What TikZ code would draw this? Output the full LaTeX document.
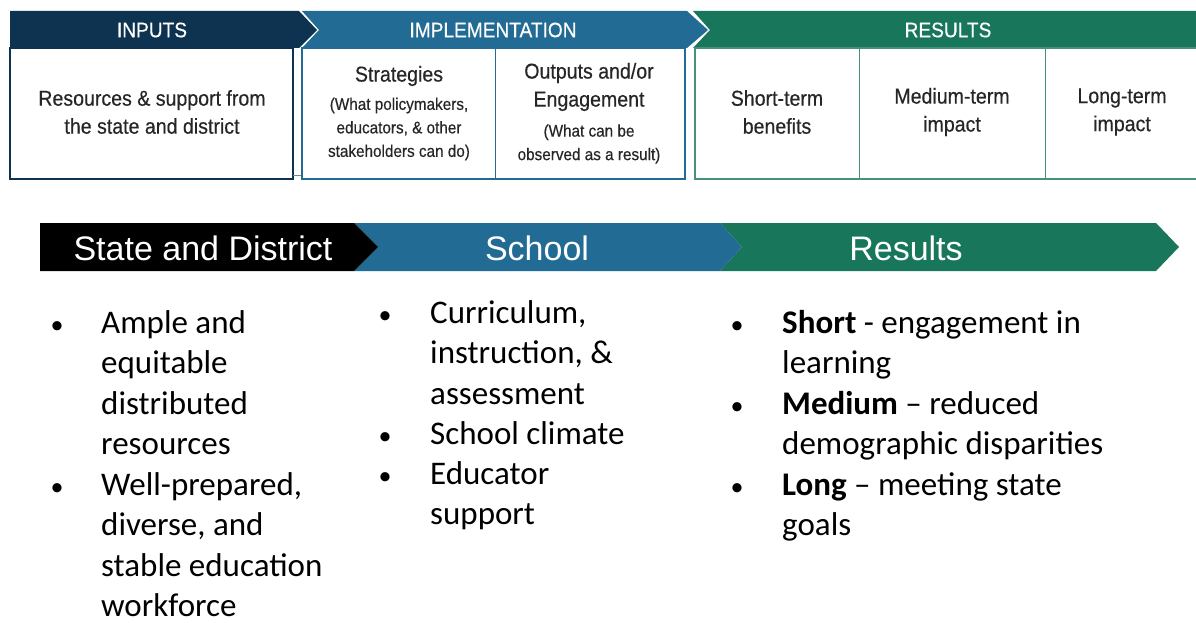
\documentclass[tikz,border=0pt]{standalone}
\usepackage{fontspec}
\setmainfont{Carlito}
\newfontfamily\condfont[FakeStretch=0.91,FakeBold=0.4]{Liberation Sans}
\newfontfamily\bannerfont{Liberation Sans}
\definecolor{navyhead}{HTML}{0D3350}
\definecolor{bluehead}{HTML}{226B94}
\definecolor{greenhead}{HTML}{18765A}
\definecolor{darktext}{HTML}{262626}
\tikzset{
  headtext/.style={text=white, font=\condfont\fontsize{21}{24}\selectfont},
  boxtext/.style={text=darktext, align=center, font=\condfont\fontsize{21.5}{28}\selectfont},
  subtext/.style={text=darktext, align=center, font=\condfont\fontsize{16.8}{23.5}\selectfont},
  bannertext/.style={text=white, font=\bannerfont\fontsize{34}{38}\selectfont},
  bulletdot/.style={anchor=base, inner sep=0, font=\fontsize{26}{40.5}\selectfont},
  itemtext/.style={anchor=base west, inner sep=0, align=left, font=\fontsize{33}{40.5}\selectfont},
}

\begin{document}
\begin{tikzpicture}[x=1pt,y=-1pt]
\useasboundingbox (0,0) rectangle (1196,623);
\fill[white] (0,0) rectangle (1196,623);

\fill[greenhead] (693,11) -- (1200,11) -- (1200,48) -- (693,48) -- (710,30) -- cycle;
\fill[bluehead] (302,11) -- (687,11) -- (708,30) -- (687,48) -- (302,48) -- (319,30) -- cycle;
\fill[navyhead] (10,11) -- (299,11) -- (317,30) -- (299,48) -- (10,48) -- cycle;
\node[headtext] (inputshead) at (152,30) {INPUTS};
\node[headtext] (implhead) at (493,30) {IMPLEMENTATION};
\node[headtext] (resultshead) at (948,30) {RESULTS};

\draw[navyhead, line width=1.5] (10,48) rectangle (293,179);
\draw[gray, line width=0.8] (293,175) -- (302,175);
\draw[bluehead, line width=1.5] (302,48) rectangle (685,179);
\draw[bluehead, line width=1] (495,48) -- (495,179);
\draw[greenhead!80, line width=1.5] (695,48) rectangle (1205,179);
\draw[greenhead!80, line width=1] (859,48) -- (859,179);
\draw[greenhead!80, line width=1] (1045,48) -- (1045,179);

\node[boxtext] (inputs) at (152,112) {Resources \& support from\\the state and district};
\node[boxtext] (strat) at (399,76) {Strategies};
\node[subtext] (stratsub) at (399,129) {(What policymakers,\\educators, \& other\\stakeholders can do)};
\node[boxtext] (outputs) at (589,87) {Outputs and/or\\Engagement};
\node[subtext] (outputssub) at (589,144) {(What can be\\observed as a result)};
\node[boxtext] (short) at (777,112) {Short-term\\benefits};
\node[boxtext] (medium) at (952,112) {Medium-term\\impact};
\node[boxtext] (long) at (1122,112) {Long-term\\impact};

\fill[greenhead] (720,223) -- (1156,223) -- (1179,247) -- (1156,271) -- (720,271) -- (742,247) -- cycle;
\fill[bluehead] (354,223) -- (720,223) -- (742,247) -- (720,271) -- (354,271) -- (378,247) -- cycle;
\fill[black] (40,223) -- (354,223) -- (378,247) -- (354,271) -- (40,271) -- cycle;
\node[bannertext] (statehead) at (203,248) {State and District};
\node[bannertext] (schoolhead) at (537,248) {School};
\node[bannertext] (resultsband) at (906,248) {Results};

\node[bulletdot] (b1) at (57,333) {•};
\node[itemtext] (ample) at (101,454.5) {Ample and\\equitable\\distributed\\resources};
\node[bulletdot] (b2) at (57,495) {•};
\node[itemtext] (well) at (101,616.5) {Well-prepared,\\diverse, and\\stable education\\workforce};

\node[bulletdot] (b3) at (385,323) {•};
\node[itemtext] (curric) at (430,404) {Curriculum,\\instruction, \&\\assessment};
\node[bulletdot] (b4) at (385,444) {•};
\node[itemtext] (climate) at (430,444) {School climate};
\node[bulletdot] (b5) at (385,484) {•};
\node[itemtext] (support) at (430,524.5) {Educator\\support};

\node[bulletdot] (b6) at (737,333) {•};
\node[itemtext] (shortres) at (782,373.5) {\textbf{Short} - engagement in\\learning};
\node[bulletdot] (b7) at (737,414) {•};
\node[itemtext] (mediumres) at (782,454.5) {\textbf{Medium} -- reduced\\demographic disparities};
\node[bulletdot] (b8) at (737,495) {•};
\node[itemtext] (longres) at (782,535.5) {\textbf{Long} -- meeting state\\goals};
\end{tikzpicture}
\end{document}
